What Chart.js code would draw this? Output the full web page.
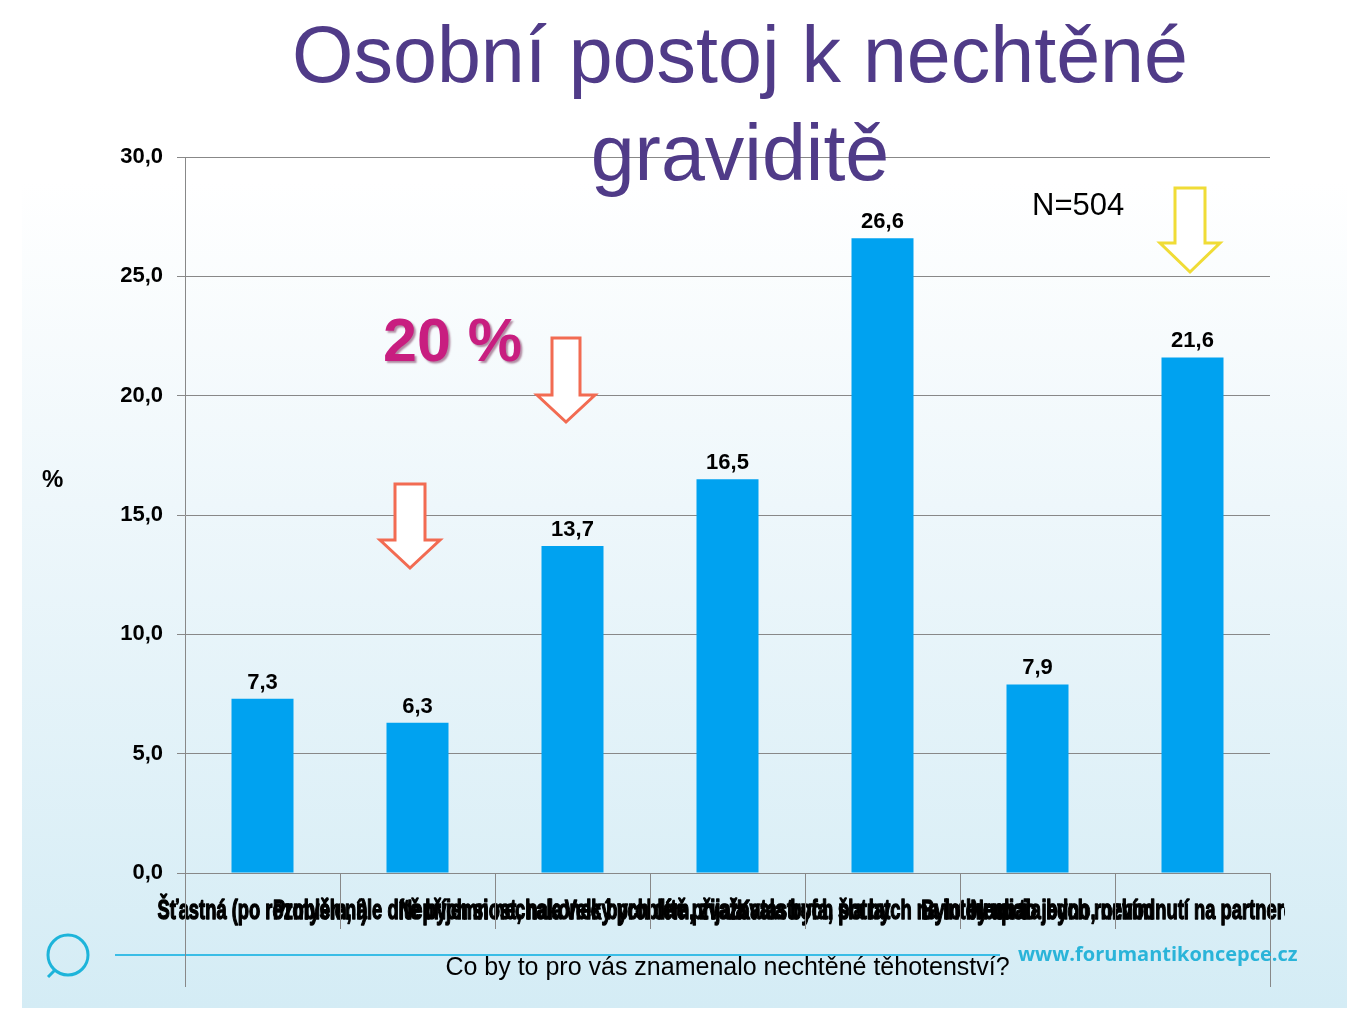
<!DOCTYPE html>
<html>
<head>
<meta charset="utf-8">
<script src="https://cdn.jsdelivr.net/npm/chart.js@4/dist/chart.umd.min.js"></script>
<style>
  html, body { margin:0; padding:0; background:#ffffff; }
  #wrap { position:relative; width:1365px; height:1024px; overflow:hidden; }
  #bg { position:absolute; left:22px; top:0; width:1325px; height:1008px;
        background:linear-gradient(to bottom, #ffffff 0%, #ffffff 18%, #eef7fb 50%, #d4ecf5 100%); }
  #c { position:absolute; left:0; top:0; }
  .ov { position:absolute; white-space:nowrap; }
  #title { left:0; top:6px; width:1480px; text-align:center; font-family:"Liberation Sans", Arial, sans-serif;
           font-size:79px; line-height:98px; color:#503B88; }
  #pct20 { left:383px; top:310px; font-family:"Liberation Sans", Arial, sans-serif; font-weight:bold; font-size:61px;
           line-height:61px; color:#C81E80; text-shadow:2px 2px 2px rgba(90,0,50,0.45); }
  #nn { left:1032px; top:189px; font-family:"Liberation Sans", Arial, sans-serif; font-size:31px; line-height:31px; color:#000; }
  #ytitle { left:42px; top:467px; font-family:"Liberation Sans", Arial, sans-serif; font-weight:bold; font-size:24px; line-height:24px; color:#000; }
  #web { left:1018px; top:944px; font-family:"Open Sans", sans-serif; font-weight:bold; font-size:20px; line-height:20px; color:#2AB4D9; }
  svg { position:absolute; left:0; top:0; }
</style>
</head>
<body>
<div id="wrap">
  <div id="bg"></div>
  <svg width="1365" height="1024" style="z-index:0">
    <circle cx="68" cy="955" r="20" fill="none" stroke="#1DB4DA" stroke-width="3"/>
    <line x1="55" y1="970" x2="48" y2="977" stroke="#1DB4DA" stroke-width="3"/>
    <line x1="115" y1="955" x2="1000" y2="955" stroke="#3ABDE6" stroke-width="2"/>
  </svg>
  <canvas id="c" width="1365" height="1024"></canvas>
  <svg width="1365" height="1024">
    <polygon points="395,484 425,484 425,540 440,540 410,568 380,540 395,540" fill="#ffffff" stroke="#F26B52" stroke-width="3"/>
    <polygon points="552,338 580,338 580,395 595,395 566,422 537,395 552,395" fill="#ffffff" stroke="#F26B52" stroke-width="3"/>
    <polygon points="1175,188 1205,188 1205,243 1220,243 1190,272 1160,243 1175,243" fill="#ffffff" stroke="#F0DC36" stroke-width="3"/>
  </svg>
  <div class="ov" id="title">Osobní postoj k nechtěné<br>graviditě</div>
  <div class="ov" id="pct20">20 %</div>
  <div class="ov" id="nn">N=504</div>
  <div class="ov" id="ytitle">%</div>
  <div class="ov" id="web">www.forumantikoncepce.cz</div>
</div>
<script>
const categories = [
  "Šťastná (po rozmyšlení)",
  "Problém, ale dítě bych si nechala",
  "Nepříjemnost, nakonec bych dítě přijala",
  "Velký problém, zvažovala bych potrat",
  "Katastrofa, šla bych na interrupci",
  "Bylo by mi to jedno, nevím",
  "Nechala bych rozhodnutí na partnerovi a doktorovi"
];
const values = [7.3, 6.3, 13.7, 16.5, 26.6, 7.9, 21.6];
const yTicks = [0, 5, 10, 15, 20, 25, 30];
const xTitle = "Co by to pro vás znamenalo nechtěné těhotenství?";

const fmt = v => v.toFixed(1).replace('.', ',');
const LABEL_SQUEEZE = 0.68;

const extras = {
  id: 'extras',
  afterUpdate(chart) {
    const xs = chart.scales.x;
    if (!xs._clipWrapped) {
      xs.drawLabels = function(area) {
        const ctx = chart.ctx;
        const items = this.getLabelItems(area);
        ctx.save();
        ctx.beginPath();
        ctx.rect(0, 0, 1285, 1024);
        ctx.clip();
        for (const item of items) {
          const o = item.options;
          ctx.save();
          ctx.translate(o.translation[0], o.translation[1]);
          ctx.scale(LABEL_SQUEEZE, 1);
          ctx.font = 'bold 27px "Liberation Sans", Arial, sans-serif';
          ctx.fillStyle = '#000';
          ctx.strokeStyle = '#000';
          ctx.lineWidth = 1.4;
          ctx.lineJoin = 'round';
          ctx.textAlign = 'center';
          ctx.textBaseline = o.textBaseline;
          ctx.strokeText(item.label, 0, item.textOffset);
          ctx.fillText(item.label, 0, item.textOffset);
          ctx.restore();
        }
        ctx.restore();
      };
      xs._clipWrapped = true;
    }
  },
  afterDraw(chart) {
    const ctx = chart.ctx;
    const area = chart.chartArea;
    ctx.save();
    ctx.strokeStyle = '#888888';
    ctx.lineWidth = 1;
    const n = categories.length;
    const step = (area.right - area.left) / n;
    for (let i = 0; i <= n; i++) {
      const x = Math.round(area.left + i * step) + 0.5;
      const yEnd = (i === 0 || i === n) ? 987 : area.bottom + 56;
      ctx.beginPath();
      ctx.moveTo(x, area.bottom);
      ctx.lineTo(x, yEnd);
      ctx.stroke();
    }
    ctx.restore();
  },
  afterDatasetsDraw(chart) {
    const ctx = chart.ctx;
    const meta = chart.getDatasetMeta(0);
    ctx.save();
    ctx.font = 'bold 22px "Liberation Sans", Arial, sans-serif';
    ctx.fillStyle = '#000';
    ctx.textAlign = 'center';
    ctx.textBaseline = 'alphabetic';
    meta.data.forEach((bar, i) => {
      ctx.fillText(fmt(values[i]), bar.x, bar.y - 10);
    });
    ctx.restore();
  }
};

new Chart(document.getElementById('c'), {
  type: 'bar',
  data: {
    labels: categories,
    datasets: [{
      data: values,
      backgroundColor: '#00A2F0',
      borderWidth: 0,
      categoryPercentage: 1.0,
      barPercentage: 0.4
    }]
  },
  options: {
    responsive: false,
    animation: false,
    devicePixelRatio: 1,
    layout: { padding: { top: 157, right: 95, left: 0, bottom: 0 } },
    plugins: { legend: { display: false }, tooltip: { enabled: false } },
    scales: {
      x: {
        grid: { display: false },
        border: { display: false },
        ticks: {
          autoSkip: false, maxRotation: 0, minRotation: 0, padding: 14,
          color: '#000',
          font: { family: '"Liberation Sans", Arial', size: 27, weight: 'bold' }
        },
        title: {
          display: true, text: xTitle, color: '#000',
          font: { family: '"Liberation Sans", Arial', size: 25 },
          padding: { top: 0, bottom: 41 }
        },
        afterFit(s) { s.height = 151; s.paddingLeft = 0; s.paddingRight = 0; }
      },
      y: {
        min: 0, max: 30,
        afterBuildTicks(s) { s.ticks = yTicks.map(v => ({ value: v })); },
        grid: { color: '#888888', tickLength: 8, lineWidth: 1 },
        border: { display: true, color: '#888888' },
        ticks: {
          padding: 14, color: '#000',
          font: { family: '"Liberation Sans", Arial', size: 22, weight: 'bold' },
          callback: v => fmt(v)
        },
        afterFit(s) { s.width = 185; s.paddingTop = 0; s.paddingBottom = 0; }
      }
    }
  },
  plugins: [extras]
});
</script>
</body>
</html>
